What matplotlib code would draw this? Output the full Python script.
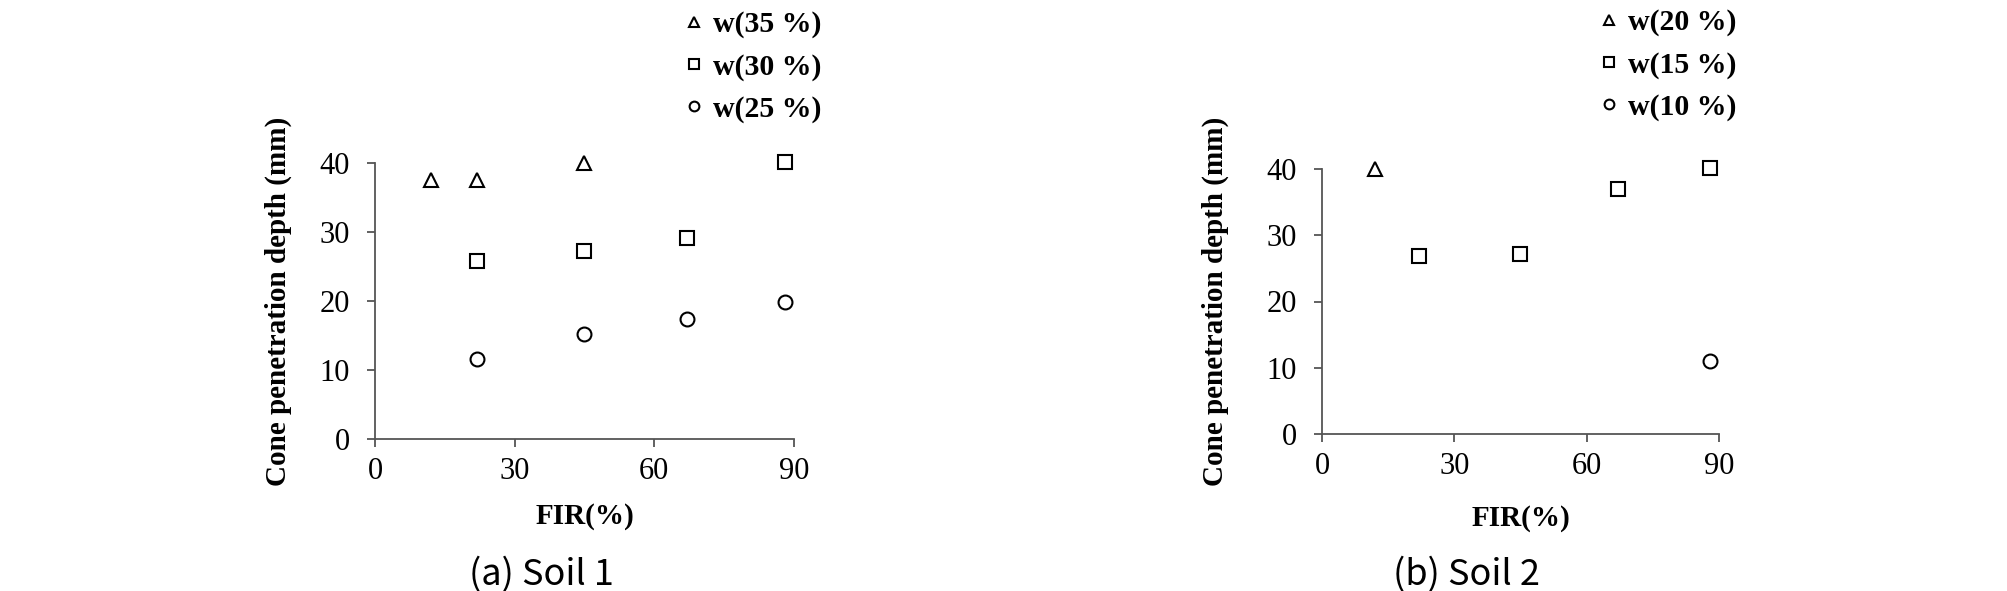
import matplotlib.pyplot as plt

# Soil 1 data (FIR %, cone penetration depth mm)
s1_fir_w35 = [12, 22, 45]
s1_w35 = [37.5, 37.6, 40.0]
s1_fir_w30 = [22, 45, 67, 88]
s1_w30 = [25.8, 27.3, 29.2, 40.1]
s1_fir_w25 = [22, 45, 67, 88]
s1_w25 = [11.6, 15.2, 17.4, 19.9]

# Soil 2 data
s2_fir_w20 = [12]
s2_w20 = [40.0]
s2_fir_w15 = [22, 45, 67, 88]
s2_w15 = [26.9, 27.2, 37.0, 40.1]
s2_fir_w10 = [88]
s2_w10 = [11.0]

x_ticks = [0, 30, 60, 90]
y_ticks = [0, 10, 20, 30, 40]

serif = 'Liberation Serif'
W, H = 2008, 591
fig = plt.figure(figsize=(W / 100, H / 100), dpi=100)

def px(l, t, r, b):
    return [l / W, 1 - b / H, (r - l) / W, (b - t) / H]

def draw(ax, series, leg_xy, ylab_x, xlab_y):
    mk = dict(linestyle='none', markerfacecolor='white', markeredgecolor='black',
              markeredgewidth=1.5, clip_on=False)
    for x, y, m, ms, lab in series:
        ax.plot(x, y, marker=m, markersize=ms, label=lab, **mk)
    ax.set_xlim(0, 90)
    ax.set_ylim(0, 40)
    ax.set_xticks(x_ticks)
    ax.set_yticks(y_ticks)
    for s in ['top', 'right']:
        ax.spines[s].set_visible(False)
    for s in ['left', 'bottom']:
        ax.spines[s].set_color('#555555')
        ax.spines[s].set_linewidth(1.3)
    ax.tick_params(axis='both', direction='out', length=6, width=1.3, color='#555555',
                   labelsize=22)
    ax.tick_params(axis='y', pad=12)
    ax.tick_params(axis='x', pad=7)
    for t in ax.get_xticklabels() + ax.get_yticklabels():
        t.set_fontfamily(serif)
    ax.set_xlabel('FIR(%)', fontsize=21, fontweight='bold', family=serif)
    ax.set_ylabel('Cone penetration depth (mm)', fontsize=21, fontweight='bold', family=serif)
    ax.yaxis.set_label_coords(ylab_x, 0.5)
    ax.xaxis.set_label_coords(0.5, xlab_y)
    ax.legend(loc='upper left', bbox_to_anchor=(leg_xy[0] / W, 1 - leg_xy[1] / H),
              bbox_transform=fig.transFigure, frameon=False, borderpad=0,
              borderaxespad=0, handlelength=0.8, handletextpad=0.25,
              labelspacing=0.5, markerscale=0.7,
              prop={'family': serif, 'weight': 'bold', 'size': 21.5})

ax1 = fig.add_axes(px(375, 163, 794, 439))
draw(ax1, [(s1_fir_w35, s1_w35, '^', 10, 'w(35 %)'),
           (s1_fir_w30, s1_w30, 's', 10, 'w(30 %)'),
           (s1_fir_w25, s1_w25, 'o', 10, 'w(25 %)')],
     (682, 11), -0.198, -0.232)

ax2 = fig.add_axes(px(1322, 169, 1719, 434))
draw(ax2, [(s2_fir_w20, s2_w20, '^', 10, 'w(20 %)'),
           (s2_fir_w15, s2_w15, 's', 10, 'w(15 %)'),
           (s2_fir_w10, s2_w10, 'o', 10, 'w(10 %)')],
     (1597, 9), -0.234, -0.268)

fig.text(541 / W, 1 - 575 / H, '(a) Soil 1', ha='center', va='center',
         fontsize=26, fontweight='light', family=['Noto Sans CJK KR', 'DejaVu Sans'])
fig.text(1466 / W, 1 - 575 / H, '(b) Soil 2', ha='center', va='center',
         fontsize=26, fontweight='light', family=['Noto Sans CJK KR', 'DejaVu Sans'])

fig.savefig('out.png', dpi=100)
